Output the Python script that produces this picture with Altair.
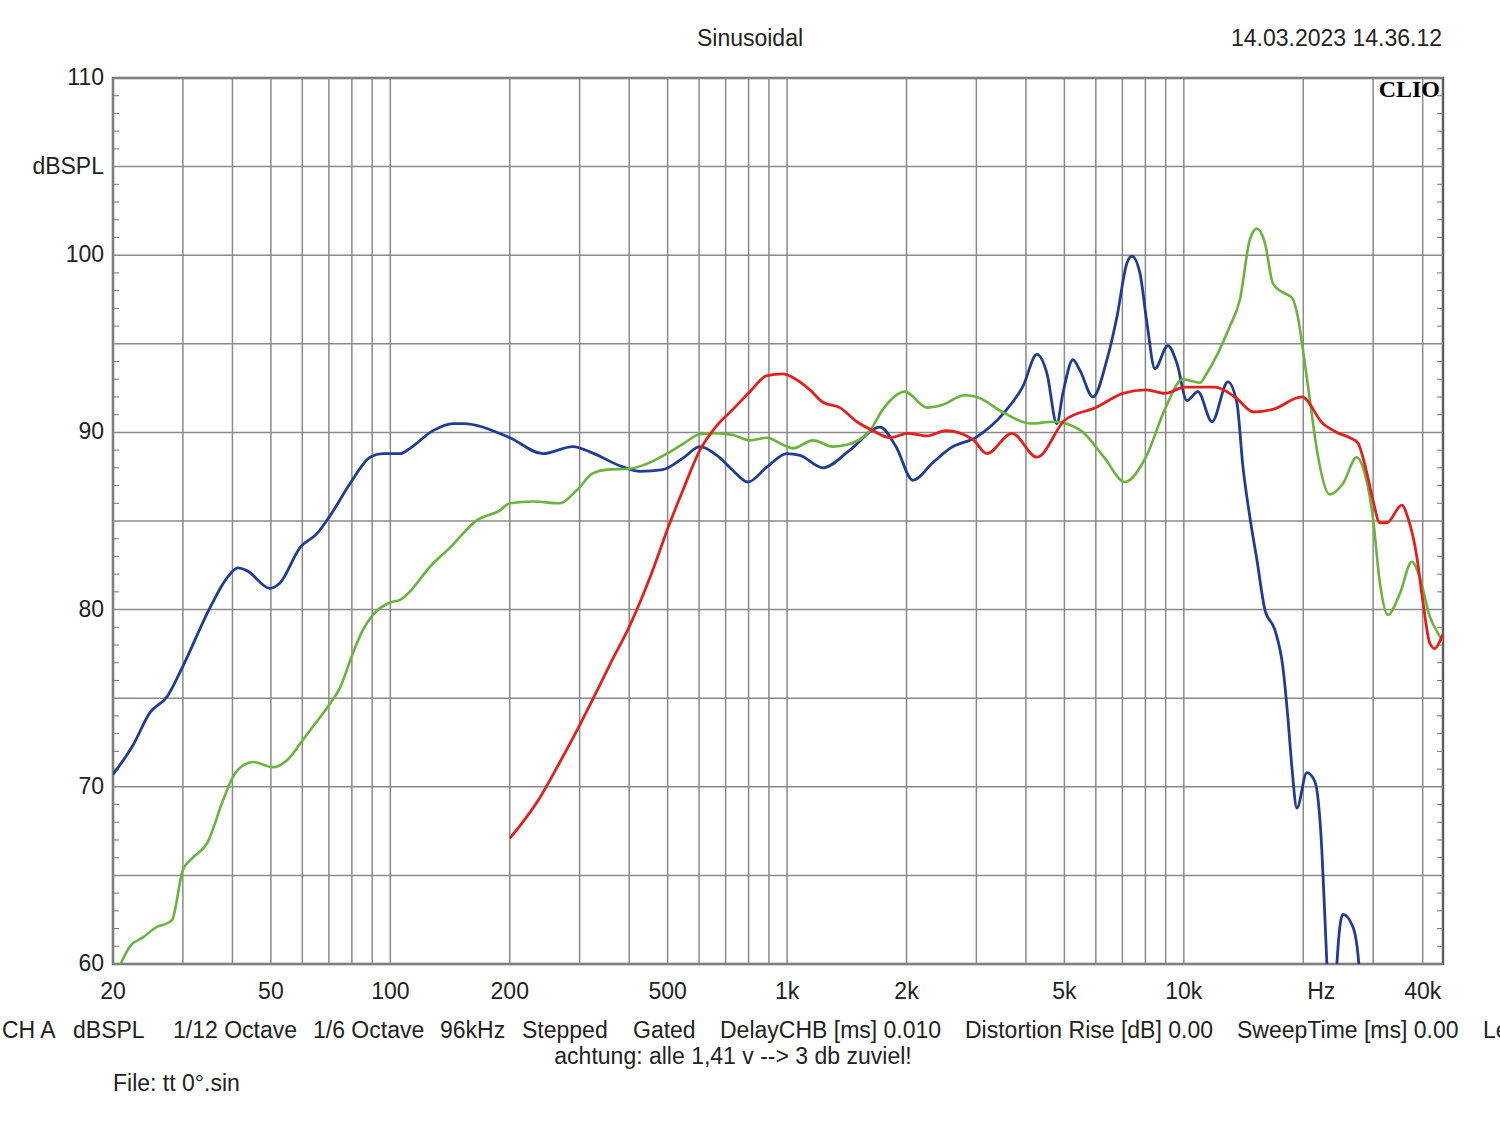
import altair as alt
import pandas as pd

# ---------------- data (frequency in Hz, level in dBSPL) ----------------
blue_f = [20, 22.4, 24.8, 27.4, 30, 35.1, 38.8, 41.3, 43.5, 49.7, 52.7, 59.2, 65.4, 70.5,
          79.1, 88.9, 95.8, 105.8, 112.1, 128.1, 143.9, 152.5, 200, 242.5, 288.6, 318.5,
          385.8, 425.9, 486.6, 546.6, 603, 665.8, 730.4, 796.9, 889.7, 999, 1078, 1231,
          1440, 1715, 1881, 2075, 2331, 2573, 3008, 3520, 3930, 4263, 4516, 4786, 4956,
          5254, 5472, 5901, 6400, 6780, 7185, 7397, 7749, 8069, 8454, 9116, 9606, 10180,
          10852, 11773, 12913, 13610, 14093, 14675, 15283, 16008, 16963, 17770, 18293,
          18724, 19275, 20420, 21390, 22280, 22670, 22940, 23480, 24030, 24310, 25160,
          26670, 27610, 28260]
blue_db = [70.7, 72.3, 74.2, 75.1, 76.8, 80.1, 81.8, 82.35, 82.2, 81.2, 81.5, 83.5, 84.3, 85.3,
           87.1, 88.6, 88.8, 88.8, 89.1, 90.1, 90.5, 90.5, 89.7, 88.8, 89.2, 88.9,
           88.05, 87.8, 87.9, 88.55, 89.2, 88.7, 87.85, 87.2, 88.05, 88.8, 88.7, 88.0,
           89.0, 90.3, 89.2, 87.3, 88.3, 89.1, 89.75, 91.1, 92.6, 94.4, 93.35, 90.5, 92.2,
           94.1, 93.5, 92.0, 94.1, 96.5, 99.55, 99.95, 99.0, 96.2, 93.6, 94.9, 93.9, 91.8,
           92.3, 90.6, 92.85, 91.65, 88.05, 85.2, 82.8, 80.0, 78.85, 76.75, 73.9,
           71.1, 68.8, 70.8, 70.3, 66.4, 62.65, 60.0, 56, 56, 60, 62.8,
           62.1, 60, 56]

green_f = [20, 20.94, 22.07, 23.8, 25.8, 27.4, 28.2, 30, 31.8, 34.5, 37.9, 40.1, 42.5, 45.1,
           50.6, 54.9, 60.2, 63.8, 70.5, 74.7, 80.5, 85.3, 90.4, 99.8, 105.8, 128.1, 141.4,
           165.4, 189, 200, 228.9, 267.6, 295.4, 324.2, 351.6, 401.7, 451.1, 497.9, 546.6,
           603, 665.8, 730.4, 805.9, 889.7, 976.6, 1034, 1162, 1305, 1415, 1617, 1744,
           1982, 2252, 2456, 2806, 3008, 3520, 4117, 4705, 5504, 6291, 7102, 8022, 8959,
           9944, 10980, 11437, 13068, 13848, 14675, 15283, 16008, 16772, 17770, 18724,
           19387, 19954, 20790, 21650, 23340, 25160, 27290, 28260, 29960, 31200, 32680,
           35030, 37560, 39340, 41690, 44160, 45000]
green_db = [59.2, 60.05, 61.0, 61.5, 62.1, 62.3, 62.5, 65.3, 66.0, 66.8, 69.25, 70.55, 71.2, 71.4,
            71.1, 71.5, 72.65, 73.4, 74.7, 75.6, 77.55, 78.85, 79.7, 80.4, 80.55, 82.6, 83.5,
            85.05, 85.6, 86.0, 86.1, 86.0, 86.75, 87.7, 87.9, 87.95, 88.3, 88.8, 89.35,
            89.9, 89.95, 89.85, 89.55, 89.7, 89.3, 89.1, 89.55, 89.2, 89.3, 90.1, 91.3,
            92.3, 91.4, 91.55, 92.1, 92.0, 91.1, 90.5, 90.6, 90.1, 88.6, 87.2, 88.6, 91.3,
            93.0, 92.8, 93.35, 96.0, 97.5, 100.9, 101.5, 100.7, 98.4, 97.9, 97.6,
            96.5, 94.7, 91.8, 89.0, 86.5, 87.1, 88.6, 88.05, 85.2, 81.5, 79.7,
            80.9, 82.7, 81.8, 79.6, 78.5, 78.2]

red_f = [200, 212.1, 238.4, 267.6, 300.4, 337.5, 357.6, 399.4, 451.1, 506.6, 546.6, 603,
         665.8, 730.4, 805.9, 889.7, 976.6, 1034, 1142, 1231, 1359, 1500, 1646, 1817,
         2016, 2252, 2513, 2940, 3189, 3688, 4263, 5015, 6003, 7022, 8022, 8959, 10060,
         11977, 13450, 15017, 16772, 19840, 22410, 24310, 26220, 27470, 28930, 29960,
         31200, 32490, 35440, 36690, 38650, 40020, 41690, 42910, 44160, 45000]
red_db = [67.1, 67.8, 69.4, 71.4, 73.5, 75.75, 76.9, 79.0, 81.8, 84.9, 86.75, 89.0,
          90.4, 91.3, 92.3, 93.2, 93.3, 93.1, 92.4, 91.7, 91.4, 90.6, 90.1, 89.7,
          89.95, 89.8, 90.1, 89.6, 88.8, 89.95, 88.6, 90.7, 91.4, 92.2, 92.4, 92.2, 92.55,
          92.55, 92.0, 91.15, 91.3, 92.0, 90.5, 90.0, 89.7, 89.4, 87.7, 86.2,
          84.9, 84.9, 85.9, 85.2, 83.0, 80.5, 78.1, 77.8, 78.2, 78.6]

grid_freqs = [20, 30, 40, 50, 60, 70, 80, 90, 100, 200, 300, 400, 500, 600, 700, 800, 900,
              1000, 2000, 3000, 4000, 5000, 6000, 7000, 8000, 9000, 10000, 20000, 30000, 40000]
xlabel_f = [20, 50, 100, 200, 500, 1000, 2000, 5000, 10000, 40000]
xlabel_t = ["20", "50", "100", "200", "500", "1k", "2k", "5k", "10k", "40k"]
hz_f = [20000]
hz_t = ["Hz"]
y_grid = [60, 65, 70, 75, 80, 85, 90, 95, 100, 105, 110]
ylabel_v = [60, 70, 80, 90, 100, 105, 110]
ylabel_t = ["60", "70", "80", "90", "100", "dBSPL", "110"]
y_minor = [v for v in range(61, 110) if v % 5 != 0]

footer_items = ["CH A", "dBSPL", "1/12 Octave", "1/6 Octave", "96kHz", "Stepped", "Gated",
                "DelayCHB [ms] 0.010", "Distortion Rise [dB] 0.00", "SweepTime [ms] 0.00", "Le"]
footer_x = [-111, -40, 60, 200, 327, 409, 520, 607, 852, 1124, 1370]

FONT = "Liberation Sans"
FS = 23
TXT = "#222222"
W, H = 1330, 886

xs = alt.Scale(type="log", domain=[20, 45000], nice=False)
ys = alt.Scale(domain=[60, 110], nice=False, zero=False)


def curve(fs, ds, color, width):
    d = pd.DataFrame({"f": fs, "db": ds})
    return alt.Chart(d).mark_line(color=color, strokeWidth=width, clip=True,
                                  interpolate="monotone").encode(
        x=alt.X("f:Q", scale=xs, axis=None),
        y=alt.Y("db:Q", scale=ys, axis=None),
    )


grid_x = alt.Chart(pd.DataFrame({"f": grid_freqs})).mark_rule(color="#8a8a8a", strokeWidth=1.5).encode(
    x=alt.X("f:Q", scale=xs, axis=None))
grid_y = alt.Chart(pd.DataFrame({"v": y_grid})).mark_rule(color="#8a8a8a", strokeWidth=1.5).encode(
    y=alt.Y("v:Q", scale=ys, axis=None))

minor_df = pd.DataFrame({"v": y_minor})
minor_l = alt.Chart(minor_df).mark_rule(color="#777777", strokeWidth=1).encode(
    y=alt.Y("v:Q", scale=ys, axis=None), x=alt.value(0), x2=alt.value(6))
minor_r = alt.Chart(minor_df).mark_rule(color="#777777", strokeWidth=1).encode(
    y=alt.Y("v:Q", scale=ys, axis=None), x=alt.value(W - 6), x2=alt.value(W))

ylabels = alt.Chart(pd.DataFrame({"v": ylabel_v, "t": ylabel_t})).mark_text(
    font=FONT, fontSize=FS, color=TXT, align="right", baseline="middle").encode(
    y=alt.Y("v:Q", scale=ys, axis=None), x=alt.value(-9), text="t:N")

xlabels = alt.Chart(pd.DataFrame({"f": xlabel_f, "t": xlabel_t})).mark_text(
    font=FONT, fontSize=FS, color=TXT, baseline="middle").encode(
    x=alt.X("f:Q", scale=xs, axis=None), y=alt.value(H + 28), text="t:N")
hzlabel = alt.Chart(pd.DataFrame({"f": hz_f, "t": hz_t})).mark_text(
    font=FONT, fontSize=FS, color=TXT, baseline="middle", dx=18).encode(
    x=alt.X("f:Q", scale=xs, axis=None), y=alt.value(H + 28), text="t:N")


def label(txt, x, y, align="left", size=FS, font=FONT, weight="normal", color=TXT):
    return alt.Chart(pd.DataFrame({"t": [txt]})).mark_text(
        font=font, fontSize=size, fontWeight=weight, color=color, align=align, baseline="middle"
    ).encode(x=alt.value(x), y=alt.value(y), text="t:N")


footer = alt.Chart(pd.DataFrame({"t": footer_items, "px": footer_x})).mark_text(
    font=FONT, fontSize=FS, color=TXT, align="left", baseline="middle").encode(
    x=alt.X("px:Q", scale=None), y=alt.value(953), text="t:N")

layers = [
    grid_x, grid_y, minor_l, minor_r,
    curve(blue_f, blue_db, "#1f3c96", 2.8),
    curve(green_f, green_db, "#6ab43c", 2.6),
    curve(red_f, red_db, "#e3211c", 2.8),
    ylabels, xlabels, hzlabel, footer,
    label("Sinusoidal", 637, -39, align="center"),
    label("14.03.2023 14.36.12", 1329, -39, align="right"),
    label("CLIO", 1327, 12, align="right", size=24, font="Liberation Serif", weight="bold", color="#000000"),
    label("achtung: alle 1,41 v --> 3 db zuviel!", 620, 979, align="center"),
    label("File: tt 0°.sin", 0, 1006, align="left"),
]

chart = alt.layer(*layers).properties(
    width=W, height=H,
    autosize=alt.AutoSizeParams(type="none"),
    padding={"left": 113, "top": 78, "right": 57, "bottom": 157},
    background="#ffffff",
).configure_view(stroke="#606060", strokeWidth=2.5)

chart.save("out.html", embed_options={"renderer": "svg", "actions": False})
